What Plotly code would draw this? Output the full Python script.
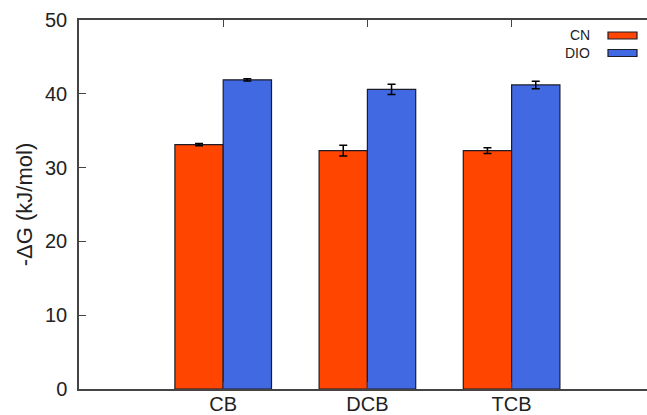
import plotly.graph_objects as go

categories = ["CB", "DCB", "TCB"]
cn_values = [33.1, 32.3, 32.3]
cn_errors = [0.15, 0.72, 0.38]
dio_values = [41.9, 40.6, 41.2]
dio_errors = [0.15, 0.7, 0.5]
series_names = ["CN", "DIO"]
colors = ["#FF4500", "#4169E1"]
y_ticks = [0, 10, 20, 30, 40, 50]

W, H = 647, 415
L, R, T, B = 79, 0, 20, 26
pw, ph = W - L - R, H - T - B

def px(x):
    return (x - L) / pw

def py(y):
    return 1 - (y - T) / ph

xs = [1, 2, 3]
fig = go.Figure()
for name, vals, errs, col in zip(series_names, [cn_values, dio_values], [cn_errors, dio_errors], colors):
    fig.add_trace(go.Bar(
        x=xs, y=vals, name=name,
        marker=dict(color=col, line=dict(color="#1c1c2a", width=1.2)),
        error_y=dict(type="data", array=errs, visible=True, color="black", thickness=1.5, width=4),
        showlegend=False,
    ))

fig.update_layout(
    width=W, height=H,
    margin=dict(l=L, r=R, t=T, b=B, autoexpand=False),
    paper_bgcolor="white", plot_bgcolor="white",
    barmode="group", bargap=0.33, bargroupgap=0,
    font=dict(family="Liberation Sans, Arial, sans-serif", color="#222", size=20),
    xaxis=dict(
        range=[0, pw / 144.2], tickvals=xs, ticktext=categories,
        showline=True, linecolor="#444", linewidth=1.5, mirror="ticks",
        ticks="inside", ticklen=7, tickcolor="#444",
        showgrid=False, zeroline=False, automargin=False,
        tickfont=dict(size=20), ticklabelstandoff=-4,
    ),
    yaxis=dict(
        range=[0, 50], tickvals=y_ticks,
        showline=True, linecolor="#444", linewidth=1.5, mirror=False,
        ticks="inside", ticklen=7, tickcolor="#444",
        showgrid=False, zeroline=False, automargin=False,
        tickfont=dict(size=20), ticklabelstandoff=6,
        title=dict(text="-ΔG (kJ/mol)", font=dict(size=22), standoff=6),
    ),
)

# legend drawn at top-right inside plot
legend_rows = [(35.5, series_names[0], colors[0]), (53, series_names[1], colors[1])]
for yc, name, col in legend_rows:
    fig.add_shape(type="rect", xref="paper", yref="paper",
                  x0=px(608), x1=px(637), y0=py(yc + 3.5), y1=py(yc - 3.5),
                  fillcolor=col, line=dict(color="#1c1c2a", width=1.2))
    fig.add_annotation(xref="paper", yref="paper", x=px(592), y=py(yc),
                       text=name, showarrow=False, xanchor="right", yanchor="middle",
                       font=dict(size=14, color="#222"))

fig.write_html(
    "out.html", config={"displayModeBar": False},
    post_script=("document.documentElement.style.margin='0';"
                 "document.documentElement.style.overflow='hidden';"
                 "document.body.style.margin='0';document.body.style.overflow='hidden';"),
)
